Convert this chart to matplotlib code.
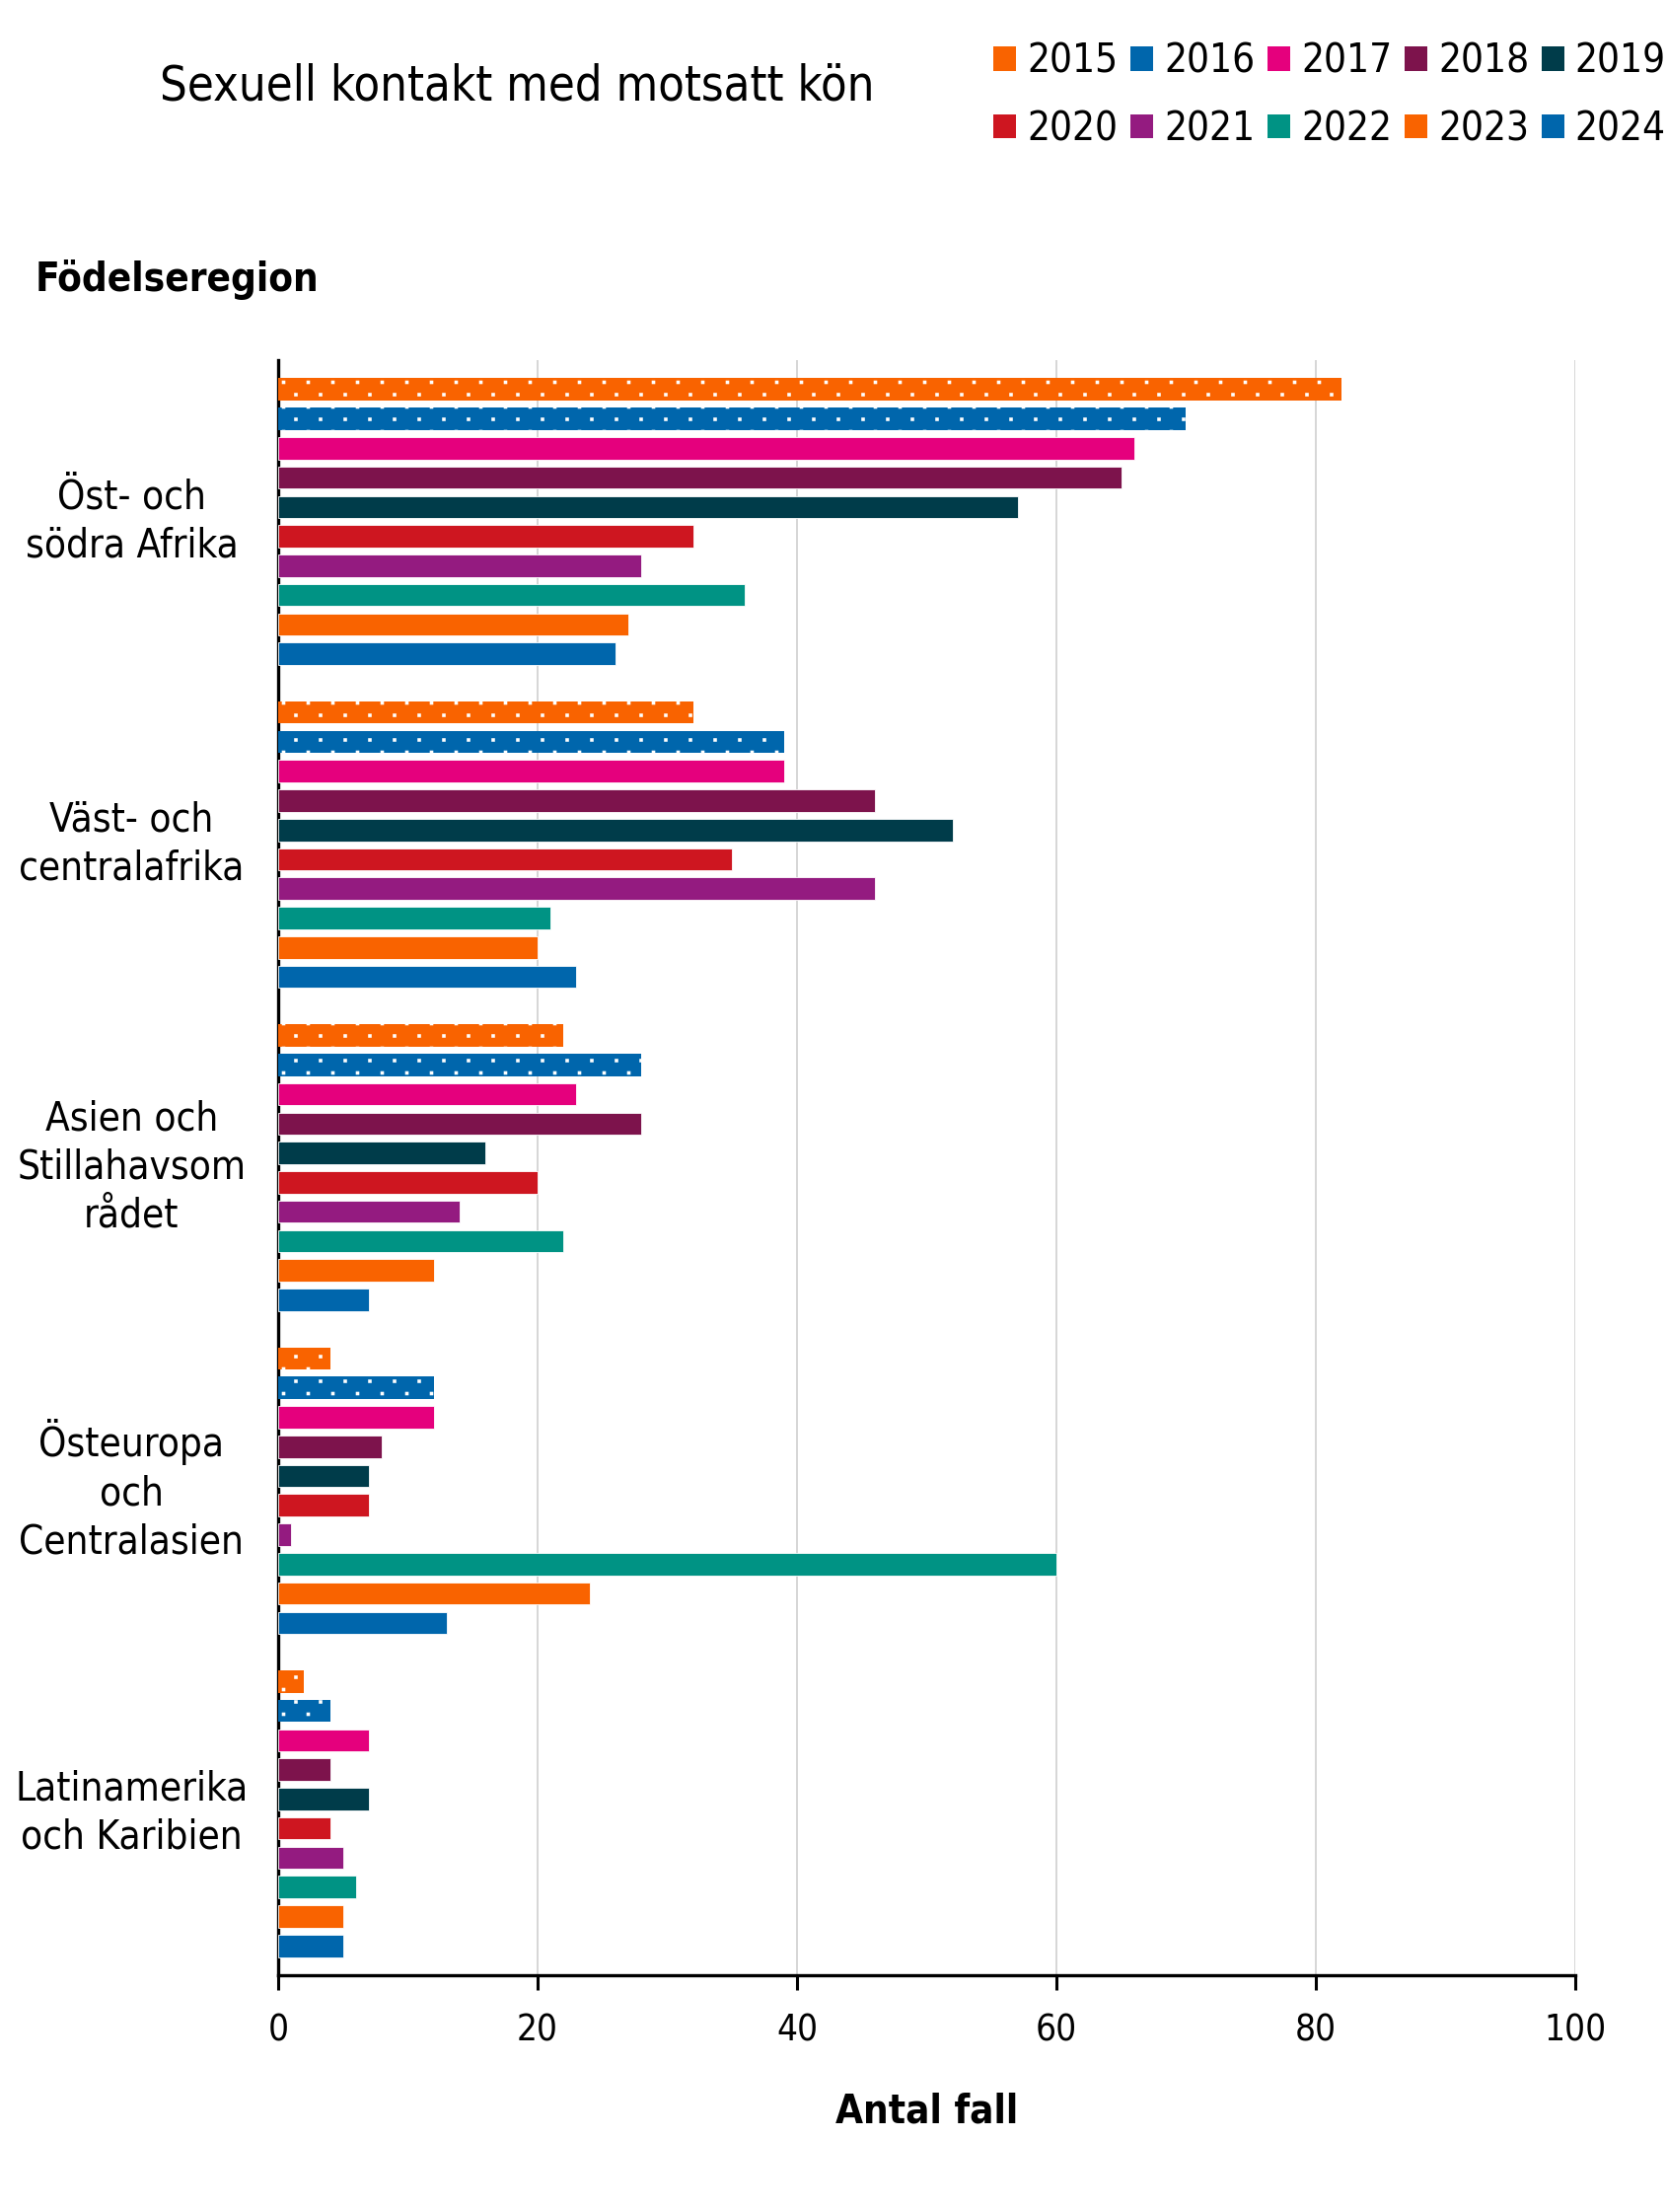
import matplotlib
matplotlib.use("Agg")
import matplotlib.pyplot as plt
import matplotlib.hatch as mhatch
from matplotlib.path import Path
from matplotlib.patches import Patch
import numpy as np

plt.rcParams['font.family'] = ['DejaVu Sans']
plt.rcParams['font.stretch'] = 'condensed'
plt.rcParams['hatch.linewidth'] = 0.0

regions = ["Öst- och\nsödra Afrika", "Väst- och\ncentralafrika",
           "Asien och\nStillahavsom\nrådet", "Östeuropa\noch\nCentralasien",
           "Latinamerika\noch Karibien"]
years = ["2015", "2016", "2017", "2018", "2019", "2020", "2021", "2022", "2023", "2024"]
colors = ["#F96300", "#0066AC", "#E5007D", "#7D134C", "#003C4A",
          "#CE1620", "#941B80", "#009384", "#F96300", "#0066AC"]
hatched_years = ["2015", "2016"]

v2015 = [82, 32, 22, 4, 2]
v2016 = [70, 39, 28, 12, 4]
v2017 = [66, 39, 23, 12, 7]
v2018 = [65, 46, 28, 8, 4]
v2019 = [57, 52, 16, 7, 7]
v2020 = [32, 35, 20, 7, 4]
v2021 = [28, 46, 14, 1, 5]
v2022 = [36, 21, 22, 60, 6]
v2023 = [27, 20, 12, 24, 5]
v2024 = [26, 23, 7, 13, 5]
series = [v2015, v2016, v2017, v2018, v2019, v2020, v2021, v2022, v2023, v2024]


# small square dots pattern: wide horizontal spacing, two staggered rows per bar
class _WideDots(mhatch.HatchPatternBase):
    def __init__(self, hatch, density):
        n = hatch.count('.')
        self.pts = []
        if n:
            ncols, nrows = 4 * n, 8 * n
            for r in range(nrows + 1):
                y = r / nrows
                if r % 2 == 0:
                    xs = np.linspace(0, 1, ncols + 1)
                else:
                    xs = np.linspace(0.5 / ncols, 1 - 0.5 / ncols, ncols)
                for x in xs:
                    self.pts.append((x, y))
        self.num_vertices = 5 * len(self.pts)

    def set_vertices_and_codes(self, vertices, codes):
        s = 0.018
        sq = np.array([[-s, -s], [s, -s], [s, s], [-s, s], [-s, -s]])
        vertices[:] = np.concatenate([sq + np.array(p) for p in self.pts])
        codes[:] = np.tile([Path.MOVETO, Path.LINETO, Path.LINETO,
                            Path.LINETO, Path.CLOSEPOLY], len(self.pts))


try:
    mhatch._hatch_types = [(_WideDots if c is mhatch.SmallFilledCircles else c)
                           for c in mhatch._hatch_types]
except Exception:
    pass

W, H = 1690, 2242
dpi = 100
fig = plt.figure(figsize=(W / dpi, H / dpi), dpi=dpi)
ax = fig.add_axes([282 / W, 1 - 2002 / H, 1315 / W, (2002 - 365) / H])

slots = 11
bar_h = 0.76
for i, (yr, vals, col) in enumerate(zip(years, series, colors)):
    y = np.arange(len(regions)) * slots + 1.0 + i
    if yr in hatched_years:
        ax.barh(y, vals, height=bar_h, color=col, edgecolor="white",
                linewidth=0, hatch=".", label=yr, zorder=3)
    else:
        ax.barh(y, vals, height=bar_h, color=col, edgecolor="white",
                linewidth=0.6, label=yr, zorder=3)

ax.set_ylim(len(regions) * slots, 0)
ax.set_xlim(0, 100)
ax.set_xticks([0, 20, 40, 60, 80, 100])
ax.tick_params(axis='x', labelsize=26.5, length=11, width=2.2, direction='out', pad=16)
ax.set_yticks([])
ax.grid(axis='x', color="#D0D0D0", linewidth=1.2, zorder=0)
for s in ["top", "right"]:
    ax.spines[s].set_visible(False)
for s in ["left", "bottom"]:
    ax.spines[s].set_linewidth(2.4)
    ax.spines[s].set_color("black")

centers = np.arange(len(regions)) * slots + 5.5
for c, lab in zip(centers, regions):
    ax.text(-0.113, c, lab, transform=ax.get_yaxis_transform(), ha="center",
            va="center", fontsize=29, linespacing=1.30)

ax.set_xlabel("Antal fall", fontsize=29, fontweight="bold", labelpad=32)

fig.text(162 / W, 1 - 88 / H, "Sexuell kontakt med motsatt kön", fontsize=35,
         ha="left", va="center")
fig.text(36 / W, 1 - 284 / H, "Födelseregion", fontsize=29, fontweight="bold",
         ha="left", va="center")

proxies = [Patch(facecolor=c, edgecolor="none") for c in colors]
order = []
for k in range(5):
    order += [k, k + 5]
fig.legend([proxies[k] for k in order], [years[k] for k in order],
           ncol=5, loc="upper right", bbox_to_anchor=(1689 / W, 1 - 43 / H),
           fontsize=29, frameon=False, handlelength=0.57, handleheight=0.57,
           handletextpad=0.27, columnspacing=0.32, labelspacing=0.70,
           borderaxespad=0, borderpad=0)

fig.savefig("out.png", dpi=dpi, facecolor="white")
